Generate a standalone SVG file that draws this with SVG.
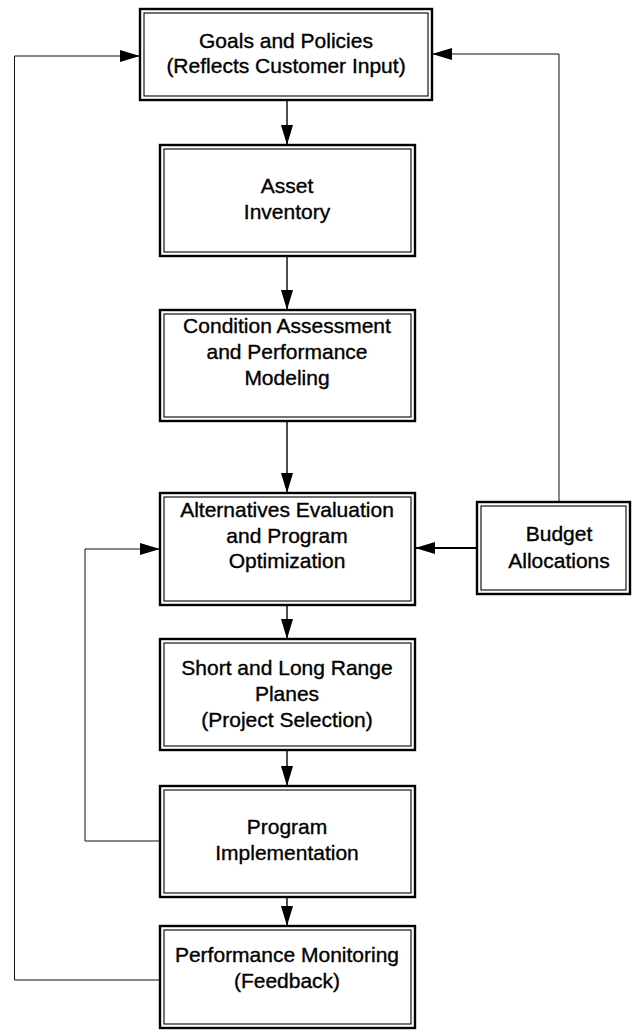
<svg xmlns="http://www.w3.org/2000/svg" width="632" height="1031" viewBox="0 0 632 1031">
  <defs>
    <marker id="arrow" viewBox="0 0 20 12" refX="20" refY="6" markerWidth="20" markerHeight="12" markerUnits="userSpaceOnUse" orient="auto">
      <path d="M0,0 L20,6 L0,12 Z" fill="#000"/>
    </marker>
  </defs>
  <style>
    .outer { fill: #fff; stroke: #000; stroke-width: 2.4; }
    .inner { fill: none; stroke: #000; stroke-width: 1.1; }
    .label { font-family: "Liberation Sans", Arial, sans-serif; font-size: 21px; fill: #000; stroke: #000; stroke-width: 0.35; text-anchor: middle; }
    .link { fill: none; stroke: #111; stroke-width: 1; }
    .flow { fill: none; stroke: #000; stroke-width: 1.4; }
    .heavy { fill: none; stroke: #000; stroke-width: 2.2; }
  </style>

  <rect width="632" height="1031" fill="#fff"/>

  <!-- connectors -->
  <g id="connectors">
    <!-- main downward flow -->
    <line class="flow" x1="287" y1="100" x2="287" y2="145" marker-end="url(#arrow)"/>
    <line class="flow" x1="287" y1="256" x2="287" y2="310" marker-end="url(#arrow)"/>
    <line class="flow" x1="287" y1="421" x2="287" y2="493" marker-end="url(#arrow)"/>
    <line class="flow" x1="287" y1="605" x2="287" y2="639" marker-end="url(#arrow)"/>
    <line class="flow" x1="287" y1="750" x2="287" y2="786" marker-end="url(#arrow)"/>
    <line class="flow" x1="287" y1="897" x2="287" y2="926" marker-end="url(#arrow)"/>
    <!-- feedback from monitoring back to goals -->
    <polyline class="link" points="160,980 14.5,980 14.5,56 140,56" marker-end="url(#arrow)"/>
    <!-- implementation loop back to optimization -->
    <polyline class="link" points="160,841 85,841 85,549 160,549" marker-end="url(#arrow)"/>
    <!-- budget to goals -->
    <polyline class="link" points="559,502 559,54 432,54" marker-end="url(#arrow)"/>
    <!-- budget to optimization -->
    <line class="heavy" x1="477" y1="548" x2="415" y2="548" marker-end="url(#arrow)"/>
  </g>

  <g id="goals">
    <rect class="outer" x="140" y="9" width="292" height="91"/>
    <rect class="inner" x="144" y="13" width="284" height="83"/>
    <text class="label" x="286" y="48">Goals and Policies</text>
    <text class="label" x="286" y="73">(Reflects Customer Input)</text>
  </g>

  <g id="asset-inventory">
    <rect class="outer" x="160" y="145" width="255" height="111"/>
    <rect class="inner" x="164" y="149" width="247" height="103"/>
    <text class="label" x="287" y="193">Asset</text>
    <text class="label" x="287" y="219">Inventory</text>
  </g>

  <g id="condition-assessment">
    <rect class="outer" x="160" y="310" width="255" height="111"/>
    <rect class="inner" x="164" y="314" width="247" height="103"/>
    <text class="label" x="287" y="333">Condition Assessment</text>
    <text class="label" x="287" y="359">and Performance</text>
    <text class="label" x="287" y="385">Modeling</text>
  </g>

  <g id="alternatives-evaluation">
    <rect class="outer" x="160" y="493" width="255" height="112"/>
    <rect class="inner" x="164" y="497" width="247" height="104"/>
    <text class="label" x="287" y="517">Alternatives Evaluation</text>
    <text class="label" x="287" y="543">and Program</text>
    <text class="label" x="287" y="568">Optimization</text>
  </g>

  <g id="budget-allocations">
    <rect class="outer" x="477" y="502" width="153" height="92"/>
    <rect class="inner" x="481" y="506" width="145" height="84"/>
    <text class="label" x="559" y="541">Budget</text>
    <text class="label" x="559" y="568">Allocations</text>
  </g>

  <g id="range-plans">
    <rect class="outer" x="160" y="639" width="255" height="111"/>
    <rect class="inner" x="164" y="643" width="247" height="103"/>
    <text class="label" x="287" y="675">Short and Long Range</text>
    <text class="label" x="287" y="701">Planes</text>
    <text class="label" x="287" y="727">(Project Selection)</text>
  </g>

  <g id="program-implementation">
    <rect class="outer" x="160" y="786" width="255" height="111"/>
    <rect class="inner" x="164" y="790" width="247" height="103"/>
    <text class="label" x="287" y="834">Program</text>
    <text class="label" x="287" y="860">Implementation</text>
  </g>

  <g id="performance-monitoring">
    <rect class="outer" x="160" y="926" width="255" height="102"/>
    <rect class="inner" x="164" y="930" width="247" height="94"/>
    <text class="label" x="287" y="962">Performance Monitoring</text>
    <text class="label" x="287" y="988">(Feedback)</text>
  </g>
</svg>
